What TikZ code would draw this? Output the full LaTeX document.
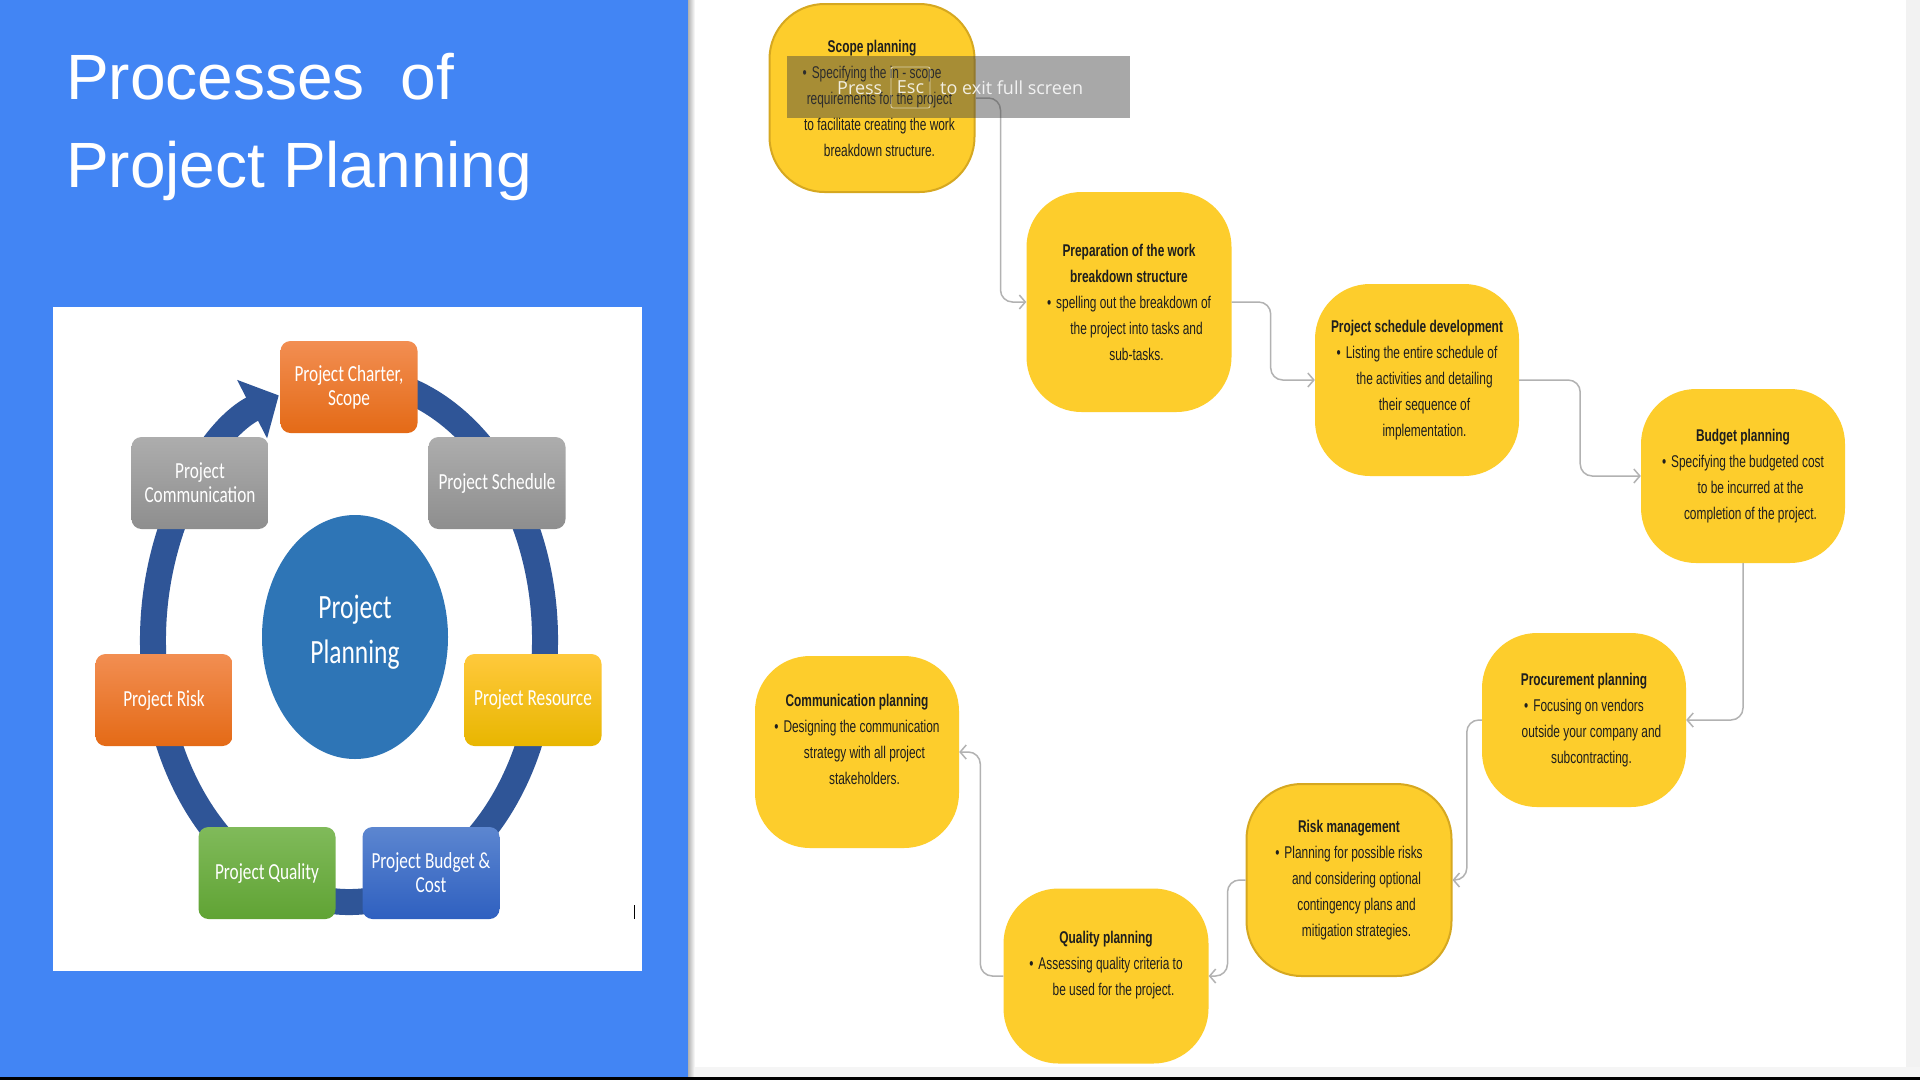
\documentclass[tikz,border=0pt]{standalone}
\usepackage{fontspec}
\setmainfont{Liberation Sans}
\newfontfamily\titlefont{Liberation Sans}
\newfontfamily\cyclefont[FakeStretch=0.75]{Carlito}
\newfontfamily\cardfont[FakeStretch=0.70]{Liberation Sans}
\newfontfamily\barfont{Open Sans}
\usetikzlibrary{positioning}
\usetikzlibrary{arrows.meta}
\usetikzlibrary{calc}
\usetikzlibrary{shapes.geometric}

\definecolor{panelblue}{RGB}{66,133,244}
\definecolor{ringblue}{RGB}{47,85,151}
\definecolor{hubblue}{RGB}{46,117,182}
\definecolor{cardyellow}{RGB}{253,205,44}
\definecolor{cardedge}{RGB}{214,168,32}
\definecolor{cardink}{RGB}{30,30,30}
\definecolor{linkgray}{RGB}{178,178,178}
\definecolor{orangetop}{RGB}{242,142,82}
\definecolor{orangebot}{RGB}{228,106,22}
\definecolor{graytop}{RGB}{173,173,173}
\definecolor{graybot}{RGB}{142,142,142}
\definecolor{yellowtop}{RGB}{255,201,60}
\definecolor{yellowbot}{RGB}{232,182,0}
\definecolor{greentop}{RGB}{128,186,90}
\definecolor{greenbot}{RGB}{96,163,52}
\definecolor{bluetop}{RGB}{92,134,208}
\definecolor{bluebot}{RGB}{47,96,192}

\newcommand\itm{\textbullet\hspace{5pt}}
\newcommand\cnt{\hspace*{15pt}}

\begin{document}
\begin{tikzpicture}
    [
    x=1pt, y=-1pt,
    title/.style={text=white, inner sep=0pt, font=\titlefont\fontsize{64}{70}\selectfont},
    box/.style={rounded corners=10pt, minimum width=137pt, minimum height=92pt, inner sep=0pt,
      text=white, align=center, font=\cyclefont\fontsize{23}{24}\selectfont},
    orangebox/.style={box, top color=orangetop, bottom color=orangebot},
    graybox/.style={box, top color=graytop, bottom color=graybot},
    yellowbox/.style={box, top color=yellowtop, bottom color=yellowbot},
    greenbox/.style={box, top color=greentop, bottom color=greenbot},
    bluebox/.style={box, top color=bluetop, bottom color=bluebot},
    ring/.style={draw=ringblue, line width=26pt, -{Triangle[length=30pt,width=64pt]}},
    card/.style={rounded corners=55pt, fill=cardyellow, minimum width=205pt, inner sep=0pt,
      align=center, text=cardink, font=\cardfont\fontsize{17}{26}\selectfont},
    edged/.style={draw=cardedge, line width=2pt},
    link/.style={draw=linkgray, line width=1.5pt, rounded corners=12pt,
      -{Straight Barb[length=6pt,width=14pt]}},
    bartext/.style={text=white, text opacity=0.85, inner sep=0pt, font=\barfont\fontsize{18}{20}\selectfont},
    ]
    \useasboundingbox (0,0) rectangle (1920,1080);
    \fill[white] (0,0) rectangle (1920,1080);

    % left panel
    \fill[panelblue] (0,0) rectangle (688,1077);
    \fill[left color=black!30, right color=white] (688,0) rectangle (695,1077);
    \node (title1) at (66,99) [anchor=base west, title] {Processes\ \ of};
    \node (title2) at (66,187) [anchor=base west, title] {Project Planning};

    % cycle picture
    \fill[white] (53,307) rectangle (642,971);
    \coordinate (hub) at (349,640);
    \draw[ring] ($(hub)+(-80:196 and 262)$) arc[start angle=-80, end angle=249, x radius=196, y radius=262];
    \node (centre) at (355,637) [ellipse, fill=hubblue, minimum width=186pt, minimum height=244pt,
      inner sep=0pt] {};
    \node (centre-text) at (355,632) [text=white, align=center,
      font=\cyclefont\fontsize{34}{45}\selectfont] {Project\\Planning};
    \node (p-charter) at (349,387) [orangebox] {Project Charter,\\Scope};
    \node (p-schedule) at (497,483) [graybox] {Project Schedule};
    \node (p-comm) at (200,483) [graybox] {Project\\Communication};
    \node (p-risk) at (164,700) [orangebox] {Project Risk};
    \node (p-resource) at (533,700) [yellowbox] {Project Resource};
    \node (p-quality) at (267,873) [greenbox] {Project Quality};
    \node (p-budget) at (431,873) [bluebox] {Project Budget \&\\Cost};
    \draw[line width=1pt] (634,905) -- (634,919);

    % planning steps
    \node (scope) at (872,98) [card, edged, minimum height=188pt] {\textbf{Scope planning}\\
      \itm Specifying the in - scope\\ \cnt requirements for the project\\
      \cnt to facilitate creating the work\\ \cnt breakdown structure.};
    \node (prep) at (1129,302) [card, minimum height=220pt] {\textbf{Preparation of the work}\\
      \textbf{breakdown structure}\\ \itm spelling out the breakdown of\\
      \cnt the project into tasks and\\ \cnt sub-tasks.};
    \node (sched) at (1417,380) [card, minimum width=204pt, minimum height=192pt] {\textbf{Project schedule development}\\
      \itm Listing the entire schedule of\\ \cnt the activities and detailing\\
      \cnt their sequence of\\ \cnt implementation.};
    \node (budget) at (1743,476) [card, minimum width=204pt, minimum height=174pt] {\textbf{Budget planning}\\
      \itm Specifying the budgeted cost\\ \cnt to be incurred at the\\
      \cnt completion of the project.};
    \node (proc) at (1584,720) [card, minimum width=204pt, minimum height=174pt] {\textbf{Procurement planning}\\
      \itm Focusing on vendors\\ \cnt outside your company and\\ \cnt subcontracting.};
    \node (risk) at (1349,880) [card, edged, minimum height=192pt] {\textbf{Risk management}\\
      \itm Planning for possible risks\\ \cnt and considering optional\\
      \cnt contingency plans and\\ \cnt mitigation strategies.};
    \node (quality) at (1106,976) [card, minimum height=175pt] {\textbf{Quality planning}\\
      \itm Assessing quality criteria to\\ \cnt be used for the project.\\ \mbox{}};
    \node (comm) at (857,752) [card, minimum width=204pt, minimum height=192pt] {\textbf{Communication planning}\\
      \itm Designing the communication\\ \cnt strategy with all project\\
      \cnt stakeholders.\\ \mbox{}};

    \draw[link] (scope.east) -- ++(25,0) |- (prep.west);
    \draw[link] (prep.east) -- ++(39,0) |- (sched.west);
    \draw[link] (sched.east) -- ++(61,0) |- (budget.west);
    \draw[link] (budget.south) |- (proc.east);
    \draw[link] (proc.west) -- ++(-15,0) |- (risk.east);
    \draw[link] (risk.west) -- ++(-18,0) |- (quality.east);
    \draw[link] (quality.west) -- ++(-23,0) |- (comm.east);

    % page edges
    \fill[black!5] (1906,0) rectangle (1920,1067);
    \fill[black!4] (695,1067) rectangle (1920,1077);
    \fill[black] (0,1077) rectangle (1920,1080);

    % full screen notice
    \node (bar) at (958.5,87) [fill=black!75, fill opacity=0.45, minimum width=343pt,
      minimum height=62pt, inner sep=0pt] {};
    \node (press) at (837,94) [anchor=base west, bartext] {Press};
    \node (esc) at (910.5,87.5) [bartext, draw=white, draw opacity=0.6, line width=0.8pt,
      rounded corners=2pt, minimum width=39pt, minimum height=41pt] {Esc};
    \node (exit) at (940,94) [anchor=base west, bartext] {to exit full screen};
\end{tikzpicture}
\end{document}
